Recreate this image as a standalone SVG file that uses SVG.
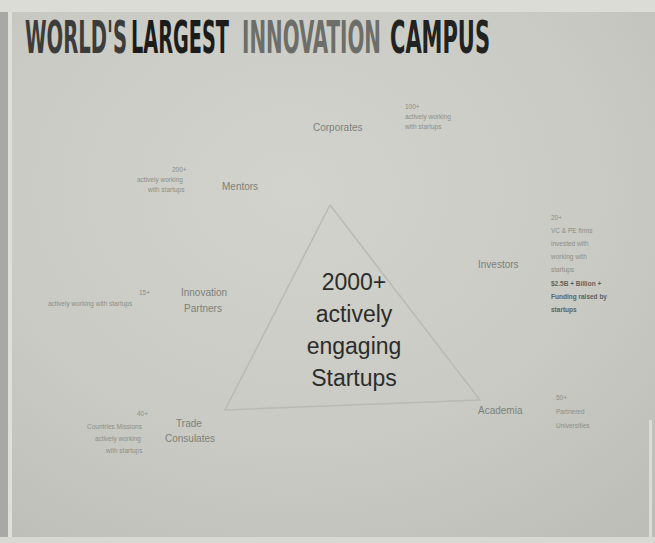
<svg xmlns="http://www.w3.org/2000/svg" width="655" height="543" viewBox="0 0 655 543">
<defs>
<radialGradient id="bg" cx="0.45" cy="0.35" r="0.8">
<stop offset="0" stop-color="#d2d3cd"/>
<stop offset="0.6" stop-color="#c8cac3"/>
<stop offset="1" stop-color="#bcbeb7"/>
</radialGradient>
<style>
.t{font-family:"DejaVu Sans Condensed","DejaVu Sans",sans-serif;font-weight:bold;font-size:21px}
.lab{font-family:"Liberation Sans",Arial,sans-serif;font-size:10px;fill:#7e807a}
.det{font-family:"Liberation Sans",Arial,sans-serif;font-size:6.5px;fill:#8c8e88}
.detb{font-family:"Liberation Sans",Arial,sans-serif;font-size:6.5px;fill:#60625c;font-weight:bold}
.big{font-family:"Liberation Sans",Arial,sans-serif;font-size:23px;fill:#2c2c2b;text-anchor:middle}
.ln{stroke:#b8bab3;stroke-width:1.5;fill:none}
</style>
</defs>
<rect x="0" y="0" width="655" height="543" fill="url(#bg)"/>
<rect x="0" y="0" width="655" height="12" fill="#dcdcd6"/>
<rect x="0" y="12" width="8" height="531" fill="#a8a9a4"/>
<rect x="8" y="12" width="4" height="531" fill="#dfdfd9"/>
<rect x="0" y="537" width="655" height="6" fill="#d9d9d3"/>
<rect x="649" y="420" width="3" height="117" fill="#dcdcd6"/>

<g id="title" transform="translate(0,53) scale(1,2.1)">
<text class="t" x="25" y="0" fill="#3c3c3a" textLength="102" lengthAdjust="spacingAndGlyphs">WORLD'S</text>
<text class="t" x="131" y="0" fill="#1c1c1b" textLength="98" lengthAdjust="spacingAndGlyphs">LARGEST</text>
<text class="t" x="242" y="0" fill="#6d6e6a" textLength="139" lengthAdjust="spacingAndGlyphs">INNOVATION</text>
<text class="t" x="390" y="0" fill="#222221" textLength="100" lengthAdjust="spacingAndGlyphs">CAMPUS</text>
</g>

<g id="connectors">
<polyline class="ln" points="330,205 225,410 480,400 330,205"/>
</g>

<g id="startups">
<text class="big" x="354" y="290">2000+</text>
<text class="big" x="354" y="322">actively</text>
<text class="big" x="354" y="354">engaging</text>
<text class="big" x="354" y="386">Startups</text>
</g>

<g id="corporates">
<text class="lab" x="313" y="131">Corporates</text>
<text class="det" x="405" y="109">100+</text>
<text class="det" x="405" y="119">actively working</text>
<text class="det" x="405" y="129">with startups</text>
</g>

<g id="mentors">
<text class="lab" x="222" y="190">Mentors</text>
<text class="det" x="172" y="172">200+</text>
<text class="det" x="137" y="182">actively working</text>
<text class="det" x="148" y="192">with startups</text>
</g>

<g id="investors">
<text class="lab" x="478" y="268">Investors</text>
<text class="det" x="551" y="220">20+</text>
<text class="det" x="551" y="233">VC &amp; PE firms</text>
<text class="det" x="551" y="246">invested with</text>
<text class="det" x="551" y="259">working with</text>
<text class="det" x="551" y="272">startups</text>
<text class="detb" x="551" y="286">$2.5B + Billion +</text>
<text class="detb" x="551" y="299">Funding raised by</text>
<text class="detb" x="551" y="312">startups</text>
</g>

<g id="innovation-partners">
<text class="lab" x="204" y="296" text-anchor="middle">Innovation</text>
<text class="lab" x="203" y="312" text-anchor="middle">Partners</text>
<text class="det" x="139" y="295">15+</text>
<text class="det" x="48" y="306">actively working with startups</text>
</g>

<g id="trade-consulates">
<text class="lab" x="189" y="427" text-anchor="middle">Trade</text>
<text class="lab" x="190" y="442" text-anchor="middle">Consulates</text>
<text class="det" x="137" y="416">40+</text>
<text class="det" x="87" y="429">Countries Missions</text>
<text class="det" x="95" y="441">actively working</text>
<text class="det" x="106" y="453">with startups</text>
</g>

<g id="academia">
<text class="lab" x="478" y="414">Academia</text>
<text class="det" x="556" y="400">50+</text>
<text class="det" x="556" y="414">Partnered</text>
<text class="det" x="556" y="428">Universities</text>
</g>
</svg>
